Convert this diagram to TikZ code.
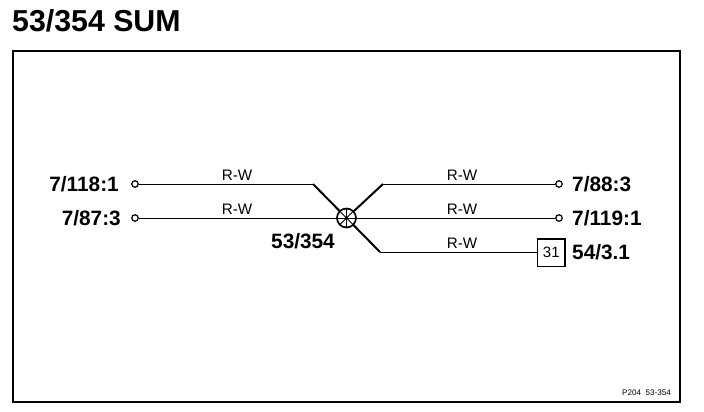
\documentclass[tikz,border=0pt]{standalone}
\usepackage{fontspec}
\setmainfont{Liberation Sans}
\tikzset{
  term/.style={circle,draw=black,line width=1.2pt,fill=white,minimum size=6.5pt,inner sep=0pt},
  pinlabel/.style={font=\fontsize{20.8}{24}\selectfont\bfseries,inner sep=0pt,anchor=west},
  pinlabelr/.style={font=\fontsize{20.8}{24}\selectfont\bfseries,inner sep=0pt,anchor=east},
  wirelabel/.style={font=\fontsize{15.2}{18}\selectfont,inner sep=0pt},
  wire/.style={line width=1pt,black},
  diag/.style={line width=2pt,black},
}
\begin{document}
\begin{tikzpicture}[x=1pt,y=-1pt]
\useasboundingbox (0,0) rectangle (704,412);
\fill[white] (0,0) rectangle (704,412);
\node[font=\fontsize{30.3}{34}\selectfont\bfseries,inner sep=0pt,anchor=west] (title) at (12,21) {53/354 SUM};
\node[draw=black,line width=2pt,outer sep=0pt,minimum width=667pt,minimum height=351pt,inner sep=0pt,anchor=north west] (frame) at (13,51) {};
\node[term] (a) at (135,184) {};
\node[term] (b) at (135,218) {};
\node[term] (c) at (559,184) {};
\node[term] (d) at (559,218) {};
\node[draw=black,line width=1.6pt,outer sep=0pt,minimum width=27.5pt,minimum height=27.5pt,inner sep=0pt,font=\fontsize{15}{18}\selectfont,anchor=north west] (box) at (537.5,239) {31};
\coordinate (s) at (346.5,218);
\coordinate (k1) at (313,184);
\coordinate (k2) at (383,184);
\coordinate (k3) at (380,252);
\draw[wire] (a) -- (k1);
\draw[wire] (c) -- (k2);
\draw[wire] (k3) -- (box.west |- k3);
\draw[wire] (b) -- (d);
\draw[diag] (k1) -- (s);
\draw[diag] (k2) -- (s);
\draw[diag] (s) -- (k3);
\node[circle,draw=black,line width=1.7pt,fill=white,outer sep=0pt,minimum size=19pt,inner sep=0pt] (sum) at (s) {};
\draw[line width=.8pt] (sum.north) -- (sum.south) (sum.east) -- (sum.west);
\draw[line width=.8pt] (sum.north east) -- (sum.south west) (sum.north west) -- (sum.south east);
\fill (s) circle (1.8pt);
\node[pinlabelr] (la) at (119,184) {7/118:1};
\node[pinlabelr] (lb) at (121,218.5) {7/87:3};
\node[pinlabel] (lc) at (572,184.5) {7/88:3};
\node[pinlabel] (ld) at (572,218.5) {7/119:1};
\node[pinlabel] (le) at (572,252.5) {54/3.1};
\node[pinlabel] (ls) at (271,241) {53/354};
\node[wirelabel] (w1) at (237,175.5) {R-W};
\node[wirelabel] (w2) at (237,209.5) {R-W};
\node[wirelabel] (w3) at (462,175.5) {R-W};
\node[wirelabel] (w4) at (462,209.5) {R-W};
\node[wirelabel] (w5) at (462,243.5) {R-W};
\node[font=\fontsize{8.1}{10}\selectfont,inner sep=0pt,anchor=east] (ref) at (671,392.5) {P204\ \ 53-354};
\end{tikzpicture}
\end{document}
